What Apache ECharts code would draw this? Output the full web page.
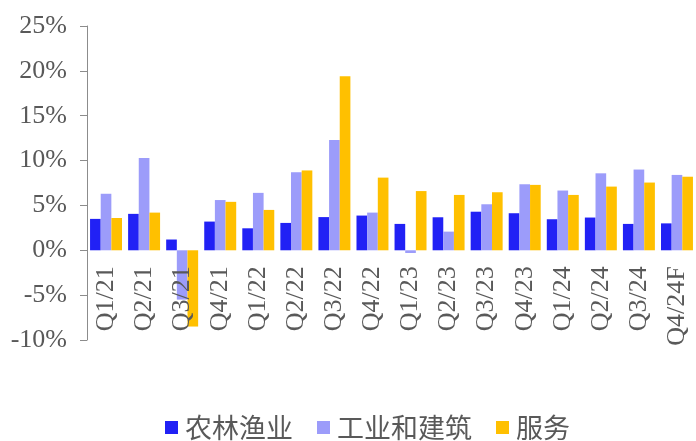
<!DOCTYPE html>
<html>
<head>
<meta charset="utf-8">
<script src="https://cdn.jsdelivr.net/npm/echarts@6/dist/echarts.min.js"></script>
<style>
html,body{margin:0;padding:0;background:#fff;}
#main{width:696px;height:441px;}
</style>
</head>
<body>
<div id="main"></div>
<script>
const categories = ['Q1/21','Q2/21','Q3/21','Q4/21','Q1/22','Q2/22','Q3/22','Q4/22','Q1/23','Q2/23','Q3/23','Q4/23','Q1/24','Q2/24','Q3/24','Q4/24F'];
const agriculture = [3.5, 4.06, 1.2, 3.2, 2.45, 3.05, 3.7, 3.87, 2.94, 3.68, 4.3, 4.13, 3.46, 3.65, 2.94, 3.0];
const industry = [6.3, 10.3, -5.5, 5.6, 6.4, 8.7, 12.3, 4.2, -0.3, 2.08, 5.13, 7.36, 6.66, 8.58, 9.0, 8.4];
const services = [3.6, 4.2, -8.5, 5.4, 4.5, 8.9, 19.4, 8.1, 6.6, 6.17, 6.47, 7.29, 6.17, 7.1, 7.55, 8.2];
const seriesNames = ['农林渔业', '工业和建筑', '服务'];
const colors = ['#2121F5', '#9C9CFA', '#FFC000'];
const yMin = -10, yMax = 25, yStep = 5;

const gridTop = 26, gridHeight = 314;
// place the category axis at the zero line of the value axis
const zeroOffset = -gridHeight * (0 - yMin) / (yMax - yMin);

const chart = echarts.init(document.getElementById('main'), null, {renderer: 'canvas'});
const serif = '"Liberation Serif", "DejaVu Serif", serif';
const textColor = '#595959';
chart.setOption({
  animation: false,
  color: colors,
  grid: {left: 87, top: gridTop, width: 610, height: gridHeight, containLabel: false},
  legend: {
    data: seriesNames,
    left: 160,
    top: 409,
    itemWidth: 13,
    itemHeight: 13,
    itemGap: 24,
    icon: 'rect',
    textStyle: {fontFamily: '"Noto Sans CJK SC", sans-serif', fontSize: 27, color: textColor, padding: [0,0,0,2]}
  },
  xAxis: {
    type: 'category',
    data: categories,
    z: 10,
    offset: zeroOffset,
    axisLine: {show: false, onZero: false},
    axisTick: {show: false},
    axisLabel: {rotate: 90, margin: 16, fontFamily: serif, fontSize: 26, color: textColor, interval: 0}
  },
  yAxis: {
    type: 'value',
    min: yMin, max: yMax, interval: yStep,
    axisLine: {show: true, onZero: false, lineStyle: {color: '#8C8C8C', width: 1}},
    axisTick: {show: true, inside: false, length: 7, lineStyle: {color: '#8C8C8C'}},
    splitLine: {show: false},
    axisLabel: {formatter: '{value}%', margin: 20, fontFamily: serif, fontSize: 26, color: textColor}
  },
  series: [
    {name: seriesNames[0], type: 'bar', data: agriculture, barGap: '0%', barCategoryGap: '16%'},
    {name: seriesNames[1], type: 'bar', data: industry, barGap: '0%', barCategoryGap: '16%'},
    {name: seriesNames[2], type: 'bar', data: services, barGap: '0%', barCategoryGap: '16%'}
  ]
});
</script>
</body>
</html>
